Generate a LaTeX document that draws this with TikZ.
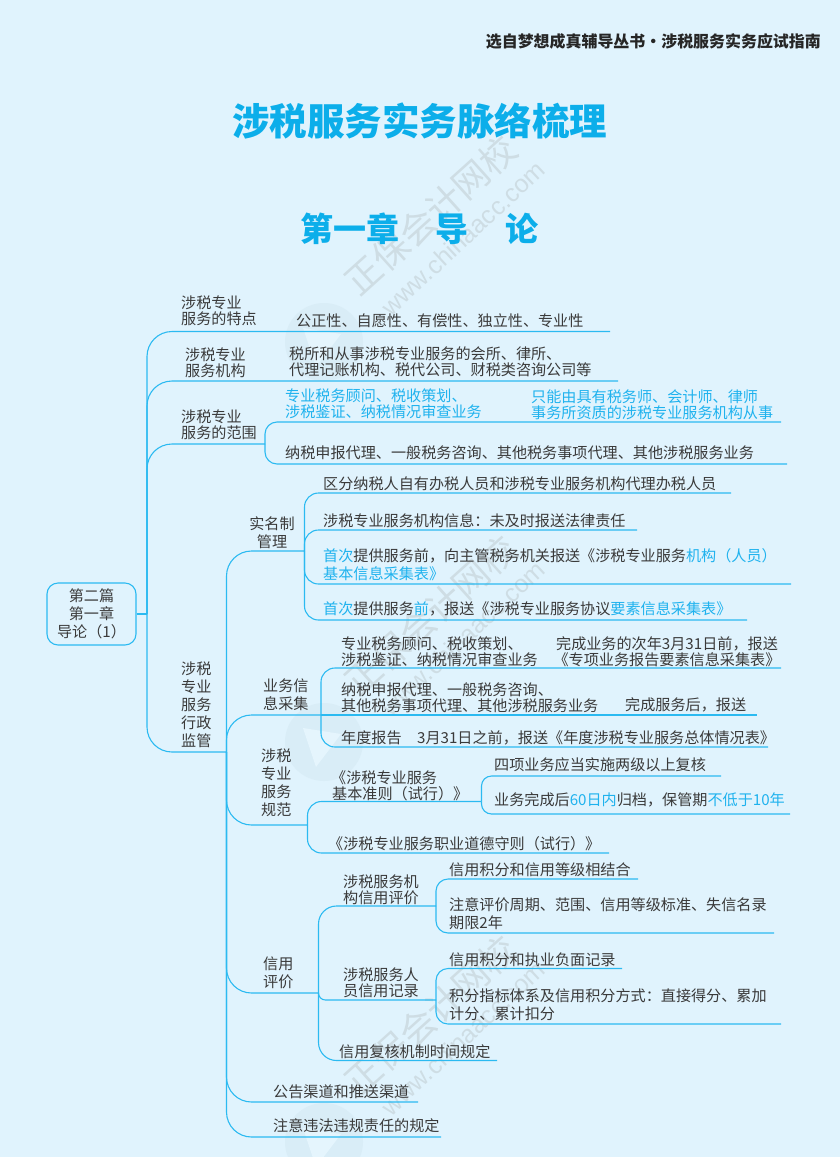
\documentclass[tikz,border=0pt]{standalone}
\usepackage{fontspec}
\usepackage{xcolor}
\setmainfont{Noto Sans CJK SC}
\newfontfamily\markfont{Liberation Sans}
\definecolor{pagebg}{HTML}{E0F3FD}
\definecolor{linecyan}{HTML}{2BBAF1}
\definecolor{keycyan}{HTML}{1FB2EE}
\definecolor{titlecyan}{HTML}{0CAEEA}
\definecolor{ink}{HTML}{3A3A3A}
\definecolor{markgrey}{HTML}{CEDDE4}
\definecolor{markdisc}{HTML}{D9EDF7}
\newcommand{\keyw}[1]{\textcolor{keycyan}{#1}}
\newcommand{\bodyfont}{\fontsize{15.12}{16}\selectfont\lineskiplimit=-100pt}
\newcommand{\loosefont}{\fontsize{15.12}{18}\selectfont\lineskiplimit=-100pt}
\tikzset{
	label/.style={anchor=west, inner sep=0pt, text=ink, align=left, font=\bodyfont},
	loose/.style={label, font=\loosefont},
	branch/.style={draw=linecyan, line width=1.1pt, rounded corners=#1},
	branch/.default=10pt
}

\begin{document}
\begin{tikzpicture}[x=1pt, y=-1pt]
	\useasboundingbox (0,0) rectangle (840,1157);
	\fill[pagebg] (0,0) rectangle (840,1157);
	\clip (0,0) rectangle (840,1157);

	% watermark
	\foreach \k in {0,400,800} {
		\fill[markdisc] (324,342+\k) circle (39);
		\fill[pagebg!85!white] (303,328+\k) -- (341,334+\k) -- (316,367+\k) -- cycle;
		\node[rotate=42, inner sep=0pt, text=markgrey, font=\fontsize{36}{36}\selectfont] (mark\k) at (431,215+\k) {正保会计网校};
		\node[rotate=43, inner sep=0pt, text=markgrey, font=\markfont\fontsize{25}{25}\selectfont] (site\k) at (463,238+\k) {www.chinaacc.com};
	}

	% headings
	\node[anchor=east, inner sep=0pt, text=black!85, font=\fontsize{15.95}{16}\selectfont\bfseries] (series) at (821,41) {选自梦想成真辅导丛书·涉税服务实务应试指南};
	\node[inner sep=0pt, text=titlecyan, font=\fontsize{37.5}{38}\selectfont\bfseries] (title) at (419.5,121) {涉税服务实务脉络梳理};
	\node[inner sep=0pt, text=titlecyan, font=\fontsize{33}{33}\selectfont\bfseries] (chapter) at (419.5,229) {第一章\hspace{37pt}导\hspace{37pt}论};

	% root
	\node[draw=linecyan, line width=1.1pt, rounded corners=11pt, minimum width=89pt, minimum height=62pt, inner sep=0pt, text=ink, align=center, font=\loosefont] (root) at (91.5,614) {第二篇\\第一章\\导论（1）};

	% joints and line ends
	\coordinate (hubMain) at (147,614);
	\coordinate (endFeatures) at (610,331.5);
	\coordinate (endAgencies) at (618,381);
	\coordinate (hubScope) at (265,444);
	\coordinate (endScopeA) at (781,422);
	\coordinate (endScopeB) at (787,464);
	\coordinate (hubSuper) at (226.5,752);
	\coordinate (hubReal) at (304.5,551);
	\coordinate (endRealA) at (731,493);
	\coordinate (endRealB) at (637,530);
	\coordinate (endRealC) at (791,584);
	\coordinate (endRealD) at (747,620);
	\coordinate (hubInfo) at (321,715);
	\coordinate (endInfoA) at (781,668);
	\coordinate (endInfoB) at (757,715);
	\coordinate (endInfoC) at (768,747);
	\coordinate (hubNorm) at (307.5,825);
	\coordinate (hubRule) at (481.5,801.5);
	\coordinate (endRuleA) at (721,776);
	\coordinate (endRuleB) at (790,814);
	\coordinate (endEthics) at (609,853);
	\coordinate (hubCredit) at (318.5,993);
	\coordinate (hubFirm) at (436,906);
	\coordinate (endFirmA) at (638,879);
	\coordinate (endFirmB) at (774,933);
	\coordinate (hubStaff) at (436,1000);
	\coordinate (endStaffA) at (622,968.5);
	\coordinate (endStaffB) at (781,1024);
	\coordinate (endReview) at (497,1060.5);
	\coordinate (endNotice) at (418,1102);
	\coordinate (endLiable) at (441,1137);

	% connectors
	\draw[branch] (root.east) -- (hubMain);
	\draw[branch=25pt] (hubMain) |- (endFeatures);
	\draw[branch=25pt] (hubMain) |- (endAgencies);
	\draw[branch=25pt] (hubMain) |- (hubScope);
	\draw[branch=25pt] (hubMain) |- (hubSuper);
	\draw[branch=12pt] (hubScope) |- (endScopeA);
	\draw[branch=12pt] (hubScope) |- (endScopeB);
	\draw[branch=25pt] (hubSuper) |- (hubReal);
	\draw[branch=25pt] (hubSuper) |- (hubInfo);
	\draw[branch=25pt] (hubSuper) |- (hubNorm);
	\draw[branch=25pt] (hubSuper) |- (hubCredit);
	\draw[branch=25pt] (hubSuper) |- (endNotice);
	\draw[branch=25pt] (hubSuper) |- (endLiable);
	\draw[branch=14pt] (hubReal) |- (endRealA);
	\draw[branch=14pt] (hubReal) |- (endRealB);
	\draw[branch=14pt] (hubReal) |- (endRealC);
	\draw[branch=14pt] (hubReal) |- (endRealD);
	\draw[branch=14pt] (hubInfo) |- (endInfoA);
	\draw[branch] (hubInfo) -- (endInfoB);
	\draw[branch=14pt] (hubInfo) |- (endInfoC);
	\draw[branch=14pt] (hubNorm) |- (hubRule);
	\draw[branch=14pt] (hubNorm) |- (endEthics);
	\draw[branch=10pt] (hubRule) |- (endRuleA);
	\draw[branch=10pt] (hubRule) |- (endRuleB);
	\draw[branch=18pt] (hubCredit) |- (hubFirm);
	\draw[branch=7pt] (hubCredit) |- (hubStaff);
	\draw[branch=18pt] (hubCredit) |- (endReview);
	\draw[branch=12pt] (hubFirm) |- (endFirmA);
	\draw[branch=12pt] (hubFirm) |- (endFirmB);
	\draw[branch=12pt] (hubStaff) |- (endStaffA);
	\draw[branch=12pt] (hubStaff) |- (endStaffB);

	% first level
	\node[label] (features) at (181,311) {涉税专业\\服务的特点};
	\node[label] (featuresText) at (296,321) {公正性、自愿性、有偿性、独立性、专业性};
	\node[label] (agencies) at (185,362.5) {涉税专业\\服务机构};
	\node[label] (agenciesText) at (289,362) {税所和从事涉税专业服务的会所、律所、\\代理记账机构、税代公司、财税类咨询公司等};
	\node[label] (scope) at (181,425) {涉税专业\\服务的范围};
	\node[label, text=keycyan] (scopeA) at (285,403.5) {专业税务顾问、税收策划、\\涉税鉴证、纳税情况审查业务};
	\node[label, text=keycyan] (scopeNote) at (531,404.5) {只能由具有税务师、会计师、律师\\事务所资质的涉税专业服务机构从事};
	\node[label] (scopeB) at (285,453) {纳税申报代理、一般税务咨询、其他税务事项代理、其他涉税服务业务};
	\node[loose] (super) at (181,705) {涉税\\专业\\服务\\行政\\监管};

	% real-name management
	\node[label, align=center, anchor=center, font=\loosefont] (real) at (272,532.5) {实名制\\管理};
	\node[label] (realA) at (323,484) {区分纳税人自有办税人员和涉税专业服务机构代理办税人员};
	\node[label] (realB) at (323,521) {涉税专业服务机构信息：未及时报送法律责任};
	\node[loose] (realC) at (323,564.5) {\keyw{首次}提供服务前，向主管税务机关报送《涉税专业服务\keyw{机构（人员）}\\\keyw{基本信息采集表》}};
	\node[label] (realD) at (323,609) {\keyw{首次}提供服务\keyw{前}，报送《涉税专业服务协议\keyw{要素信息采集表》}};

	% information collection
	\node[loose] (info) at (263,695) {业务信\\息采集};
	\node[label] (infoA) at (341,652) {专业税务顾问、税收策划、\\涉税鉴证、纳税情况审查业务};
	\node[label, align=center, anchor=center] (infoANote) at (667,651.5) {完成业务的次年3月31日前，报送\\《专项业务报告要素信息采集表》};
	\node[label] (infoB) at (341,698) {纳税申报代理、一般税务咨询、\\其他税务事项代理、其他涉税服务业务};
	\node[label] (infoBNote) at (625,705) {完成服务后，报送};
	\node[label] (infoC) at (341,738) {年度报告};
	\node[label] (infoCNote) at (417,738) {3月31日之前，报送《年度涉税专业服务总体情况表》};

	% service norms
	\node[loose] (norm) at (261,782.5) {涉税\\专业\\服务\\规范};
	\node[label] (rule) at (332,785.5) {\hspace{-1pt}《涉税专业服务\\基本准则（试行）》};
	\node[label] (ruleA) at (494,765) {四项业务应当实施两级以上复核};
	\node[label] (ruleB) at (494,800) {业务完成后\keyw{60日内}归档，保管期\keyw{不低于10年}};
	\node[label] (ethics) at (328,844) {《涉税专业服务职业道德守则（试行）》};

	% credit rating
	\node[loose] (credit) at (263,973) {信用\\评价};
	\node[label] (firm) at (343,889.5) {涉税服务机\\构信用评价};
	\node[label] (firmA) at (449,870) {信用积分和信用等级相结合};
	\node[loose] (firmB) at (449,914) {注意评价周期、范围、信用等级标准、失信名录\\期限2年};
	\node[label] (staff) at (343,983) {涉税服务人\\员信用记录};
	\node[label] (staffA) at (449,960) {信用积分和执业负面记录};
	\node[loose] (staffB) at (449,1005) {积分指标体系及信用积分方式：直接得分、累加\\计分、累计扣分};
	\node[label] (review) at (339,1052) {信用复核机制时间规定};
	\node[label] (notice) at (273,1092) {公告渠道和推送渠道};
	\node[label] (liable) at (273,1126) {注意违法违规责任的规定};
\end{tikzpicture}
\end{document}
